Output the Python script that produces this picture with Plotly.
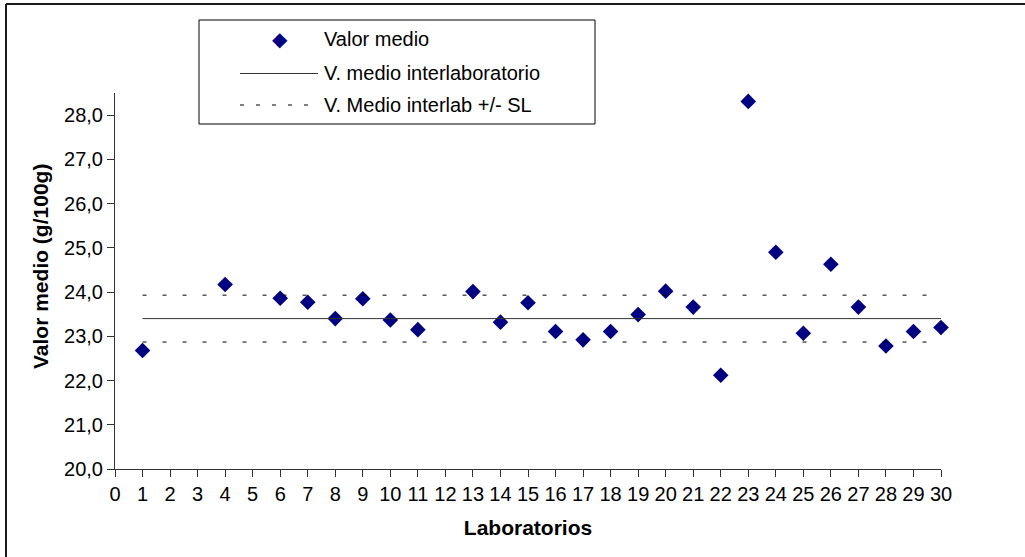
import plotly.graph_objects as go

# ---- data ----
labs = [1, 4, 6, 7, 8, 9, 10, 11, 13, 14, 15, 16, 17, 18, 19, 20, 21, 22, 23, 24, 25, 26, 27, 28, 29, 30]
values = [22.68, 24.17, 23.86, 23.77, 23.40, 23.85, 23.37, 23.15, 24.01, 23.32, 23.76, 23.11, 22.92,
          23.11, 23.49, 24.02, 23.66, 22.12, 28.31, 24.90, 23.07, 24.63, 23.66, 22.78, 23.11, 23.20]
mean_value = 23.40
sl_value = 0.53
x_ticks = list(range(0, 31))
y_ticks = [20, 21, 22, 23, 24, 25, 26, 27, 28]
legend_labels = ["Valor medio", "V. medio interlaboratorio", "V. Medio interlab +/- SL"]
x_title = "Laboratorios"
y_title = "Valor medio (g/100g)"

W, H = 1025, 557
L, R, T, B = 115, 84, 93, 88
PW, PH = W - L - R, H - T - B

def px(x):
    return (x - L) / PW

def py(y):
    return (H - B - y) / PH

FONT = "Liberation Sans, Arial, sans-serif"
NAVY = "#000080"
LINE = "#333333"

line_x = [min(labs), max(labs)]

fig = go.Figure()
fig.add_trace(go.Scatter(
    x=labs, y=values, mode="markers", name=legend_labels[0],
    marker=dict(symbol="diamond", size=12, color=NAVY, line=dict(width=0)),
    showlegend=False, cliponaxis=False))
fig.add_trace(go.Scatter(
    x=line_x, y=[mean_value, mean_value], mode="lines", name=legend_labels[1],
    line=dict(color=LINE, width=1), showlegend=False))
fig.add_trace(go.Scatter(
    x=line_x, y=[mean_value + sl_value] * 2, mode="lines", name=legend_labels[2],
    line=dict(color="#000000", width=1, dash="4px,16px"), showlegend=False))
fig.add_trace(go.Scatter(
    x=line_x, y=[mean_value - sl_value] * 2, mode="lines", name=legend_labels[2],
    line=dict(color="#000000", width=1, dash="4px,16px"), showlegend=False))

shapes = [
    # outer chart border (top and left visible)
    dict(type="line", xref="paper", yref="paper", x0=px(6), x1=px(1040), y0=py(4), y1=py(4),
         line=dict(color="#1a1a1a", width=2)),
    dict(type="line", xref="paper", yref="paper", x0=px(6), x1=px(6), y0=py(4), y1=py(570),
         line=dict(color="#1a1a1a", width=2)),
    # legend box
    dict(type="rect", xref="paper", yref="paper", x0=px(199), x1=px(595), y0=py(124), y1=py(20),
         line=dict(color="#000000", width=1), fillcolor="white"),
    dict(type="line", xref="paper", yref="paper", x0=px(240), x1=px(318), y0=py(73.5), y1=py(73.5),
         line=dict(color=LINE, width=1)),
    dict(type="line", xref="paper", yref="paper", x0=px(240), x1=px(318), y0=py(105), y1=py(105),
         line=dict(color="#000000", width=1, dash="4px,12px")),
]

annotations = [
    dict(xref="paper", yref="paper", x=px(280), y=py(39), text="◆", showarrow=False,
         font=dict(family="DejaVu Sans", size=20, color=NAVY), xanchor="center", yanchor="middle"),
    dict(xref="paper", yref="paper", x=px(40), y=py(267), text="<b>" + y_title + "</b>",
         showarrow=False, textangle=-90, xanchor="center", yanchor="middle",
         font=dict(family=FONT, size=21, color="black")),
]
for label, yy in zip(legend_labels, [39, 73, 105]):
    annotations.append(dict(xref="paper", yref="paper", x=px(322), y=py(yy), text=label,
                            showarrow=False, xanchor="left", yanchor="middle",
                            font=dict(family=FONT, size=20, color="black")))

fig.update_layout(
    width=W, height=H, autosize=False,
    margin=dict(l=L, r=R, t=T, b=B),
    paper_bgcolor="white", plot_bgcolor="white",
    separators=",.",
    font=dict(family=FONT, size=20, color="black"),
    shapes=shapes, annotations=annotations,
    xaxis=dict(range=[0, 30], tickmode="array", tickvals=x_ticks, ticks="outside", ticklen=7,
               tickcolor=LINE, showline=True, linecolor=LINE, linewidth=1, showgrid=False,
               zeroline=False, tickfont=dict(size=20),
               title=dict(text="<b>" + x_title + "</b>", font=dict(size=21), standoff=16)),
    yaxis=dict(range=[20, 28.5], tickmode="array", tickvals=y_ticks, tickformat=".1f",
               ticks="outside", ticklen=7, tickcolor=LINE, showline=True, linecolor=LINE,
               linewidth=1, showgrid=False, zeroline=False, tickfont=dict(size=20)),
)

fig.write_html("out.html", config={"displayModeBar": False},
               post_script="document.body.style.margin='0';document.body.style.overflow='hidden';")
